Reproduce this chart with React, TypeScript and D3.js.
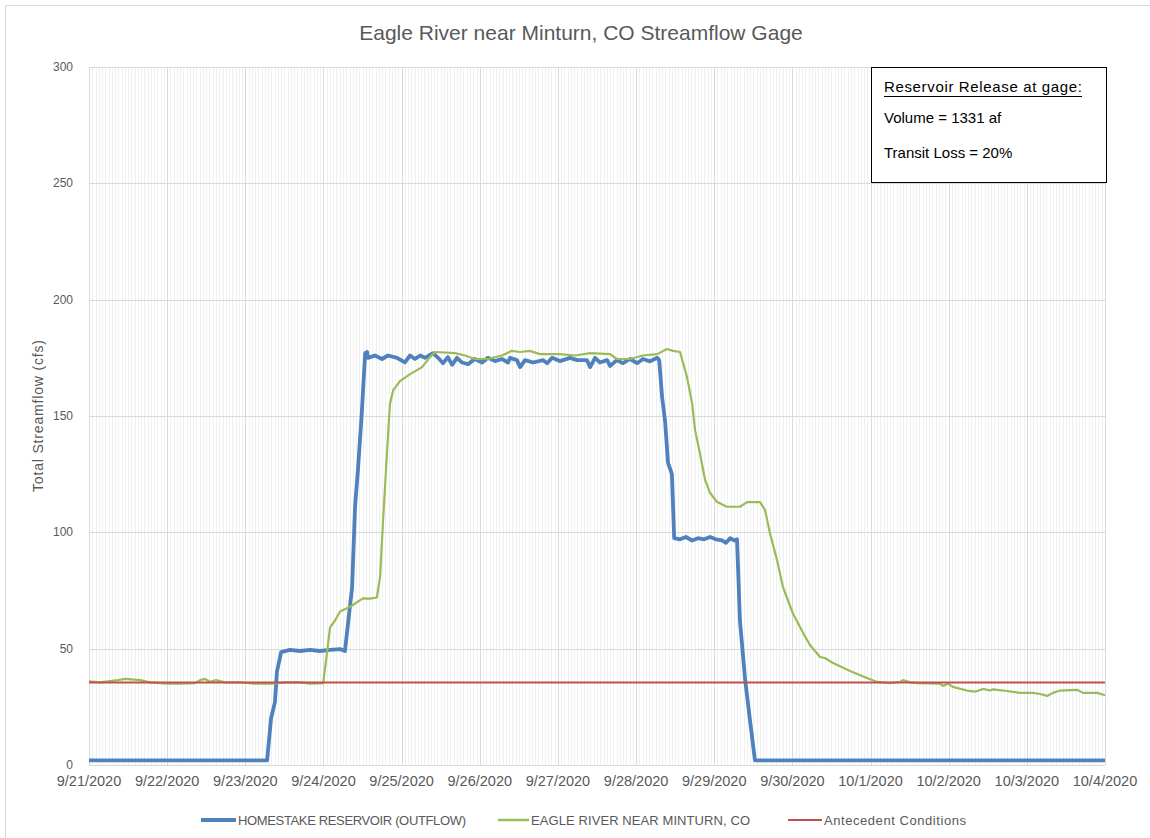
import React from 'react';
import * as d3 from 'd3';

// ---- data (hours since 9/21/2020 00:00, cfs) ----
const homestakeHours = [
  0, 54.7, 55.9, 57.1, 57.7, 59.0, 61.7, 64.8, 67.9, 70.9, 74.0, 77.1, 78.6,
  80.8, 81.7, 82.6, 83.8, 84.8, 85.4, 85.7, 87.8, 90.0, 91.8, 94.6, 97.0, 98.6,
  100.1, 101.7, 103.2, 105.6, 107.2, 108.7, 110.2, 111.5, 113.0, 114.5, 116.4,
  118.5, 120.7, 122.5, 124.7, 126.8, 128.7, 129.3, 131.4, 132.4, 133.9, 136.4,
  139.4, 140.7, 142.2, 144.6, 147.7, 149.9, 152.9, 153.9, 155.4, 156.9, 159.1,
  160.0, 162.1, 164.0, 166.1, 168.3, 170.1, 172.3, 174.5, 175.1, 176.0, 176.9,
  177.8, 179.0, 179.7, 181.5, 183.3, 185.2, 187.0, 188.9, 190.7, 192.5, 194.4,
  195.6, 196.9, 198.1, 199.0, 199.9, 201.5, 203.0, 204.5, 312,
];
const homestakeCfs = [
  2, 2, 20, 27, 40, 48.5, 49.5, 49, 49.5, 49, 49.5, 49.8, 49,
  76.5, 111, 127, 152, 177, 177.5, 175, 176, 174.5, 176, 175, 173, 176,
  174.5, 176, 175, 177, 175, 172.7, 175.3, 172, 175, 173, 172.3,
  174.5, 173, 175, 173.6, 174.5, 173, 175, 174, 171, 174, 173,
  174, 172.7, 175, 173.6, 175, 174, 174, 171, 175, 173, 174,
  171.5, 174, 172.7, 174.5, 172.7, 174.5, 173.5, 175, 174, 158, 148,
  130, 125, 97.5, 97, 98, 96.5, 97.5, 97, 98, 97, 96.5,
  95.5, 97.5, 96.5, 97, 62, 36.5, 19, 2, 2,
];

const eagleHours = [
  0, 3.4, 8.9, 11.1, 15.7, 18.7, 24.0, 27.9, 32.6, 34.1, 35.6, 37.2, 39.0, 41.8,
  46.4, 51.0, 56.2, 60.2, 64.8, 67.9, 71.9, 72.8, 74.0, 75.5, 77.1, 80.2, 84.1,
  86.3, 88.4, 89.4, 90.3, 91.5, 92.4, 93.4, 95.5, 98.6, 102.3, 104.7, 106.3,
  112.4, 115.5, 118.5, 122.5, 126.8, 129.9, 132.4, 135.4, 138.5, 144.6, 149.2,
  153.9, 160.0, 162.1, 166.1, 170.1, 174.5, 177.5, 179.3, 181.5, 183.6, 185.2,
  186.1, 187.6, 189.2, 190.7, 192.9, 195.9, 199.9, 202.1, 206.1, 207.6, 209.1,
  211.3, 213.1, 216.2, 219.3, 221.4, 224.5, 226.0, 228.5, 233.7, 238.9, 242.0,
  246.0, 249.1, 250.0, 252.1, 254.3, 261.3, 262.3, 263.8, 265.3, 269.6, 272.1,
  274.5, 276.7, 277.6, 281.9, 285.9, 289.9, 292.1, 294.2, 296.0, 298.2, 303.4,
  305.3, 309.6, 312,
];
const eagleCfs = [
  36, 35.5, 36.5, 37, 36.5, 35.5, 35, 35, 35.2, 36.5, 37, 35.8, 36.5, 35.5,
  35.5, 35, 35, 35.5, 35.5, 35, 35.2, 45, 59, 62, 66, 68, 71.6,
  71.5, 72, 81, 105, 134, 155, 161, 165, 168, 171, 175.3, 177.5,
  177, 176, 174.5, 174.5, 176, 178, 177.5, 178, 176.6, 176.6, 176,
  177, 176.6, 174.5, 174.5, 176, 176.6, 178.8, 178, 177.5, 167, 155.6,
  144, 134, 122.5, 117, 113, 111, 111, 113, 113, 109.6, 99.7,
  88, 76.5, 65, 56.7, 51.6, 46.4, 46, 43.8, 40.4, 37.4, 35.7,
  35.2, 35.7, 36.5, 35.5, 35.2, 35, 34, 35, 33.6, 32, 31.5,
  32.7, 32, 32.5, 31.8, 31, 31, 30.5, 29.7, 31, 32, 32.3,
  31, 31, 30,
];

const antecedentHours = [0, 312];
const antecedentCfs = [35.5, 35.5];

const yTickValues = [0, 50, 100, 150, 200, 250, 300];
const seriesNames = [
  'HOMESTAKE RESERVOIR (OUTFLOW)',
  'EAGLE RIVER NEAR MINTURN, CO',
  'Antecedent Conditions',
];
const seriesColors = ['#4f81bd', '#9bbb59', '#c0504d'];
const noteLines = ['Reservoir Release at gage:', 'Volume = 1331 af', 'Transit Loss = 20%'];
const chartTitle = 'Eagle River near Minturn, CO Streamflow Gage';
const yAxisTitle = 'Total Streamflow (cfs)';

// ---- layout ----
const W = 1150;
const H = 838;
const PL = 89;
const PR = 1105;
const PT = 67;
const PB = 765;
const FONT = "'Liberation Sans', Arial, sans-serif";

const start = new Date(2020, 8, 21);
const end = d3.timeDay.offset(start, 13);
const x = d3.scaleTime().domain([start, end]).range([PL, PR]);
const y = d3.scaleLinear().domain([0, 300]).range([PB, PT]);
const toDate = (h: number) => new Date(start.getTime() + h * 3600000);
const fmt = d3.timeFormat('%-m/%-d/%Y');

type Pt = [number, number];
const zip = (hs: number[], vs: number[]): Pt[] => hs.map((h, i) => [h, vs[i]]);
const line = d3
  .line<Pt>()
  .x((d) => x(toDate(d[0])))
  .y((d) => y(d[1]));

export default function App() {
  const days = d3.timeDay.range(start, d3.timeDay.offset(end, 1));
  const hours = d3.timeHour.range(start, end);
  const LY = 820;
  const legend = [
    { x1: 201, x2: 236, tx: 238, tl: 228, w: 4 },
    { x1: 498, x2: 529, tx: 531, tl: 219, w: 2.5 },
    { x1: 788, x2: 822, tx: 824, tl: 142, w: 2 },
  ];
  return (
    <div style={{ position: 'absolute', left: 0, top: 0 }}>
      <svg width={W} height={H} style={{ display: 'block', background: '#fff' }} fontFamily={FONT}>
        <rect x={0} y={0} width={W} height={H} fill="#fff" />
        <rect x={5.5} y={5.5} width={W + 10} height={H + 10} fill="none" stroke="#d9d9d9" />
        <text x={581} y={40} textAnchor="middle" fontSize={21} fill="#595959">
          {chartTitle}
        </text>

        {/* minor vertical grid */}
        <g stroke="#f0f0f0" strokeWidth={1}>
          {hours.map((h, i) => (
            <line key={i} x1={Math.round(x(h)) + 0.5} x2={Math.round(x(h)) + 0.5} y1={PT} y2={PB} />
          ))}
        </g>
        {/* major grid */}
        <g stroke="#d9d9d9" strokeWidth={1}>
          {yTickValues.map((v) => (
            <line key={v} x1={PL} x2={PR} y1={Math.round(y(v)) + 0.5} y2={Math.round(y(v)) + 0.5} />
          ))}
          {days.map((d, i) => (
            <line key={i} x1={Math.round(x(d)) + 0.5} x2={Math.round(x(d)) + 0.5} y1={PT} y2={PB} />
          ))}
        </g>

        {/* y ticks */}
        <g fontSize={12} fill="#595959" textAnchor="end">
          {yTickValues.map((v) => (
            <text key={v} x={73} y={y(v) + 4}>
              {v}
            </text>
          ))}
        </g>
        {/* x ticks */}
        <g fontSize={14.5} fill="#595959" textAnchor="middle">
          {days.map((d, i) => (
            <text key={i} x={x(d)} y={786}>
              {fmt(d)}
            </text>
          ))}
        </g>
        <text
          transform={`translate(43,${(PT + PB) / 2}) rotate(-90)`}
          textAnchor="middle"
          fontSize={14}
          fill="#595959"
          textLength={152}
        >
          {yAxisTitle}
        </text>

        {/* series */}
        <path
          d={line(zip(homestakeHours, homestakeCfs)) || ''}
          fill="none"
          stroke={seriesColors[0]}
          strokeWidth={3.8}
          strokeLinejoin="round"
        />
        <path
          d={line(zip(eagleHours, eagleCfs)) || ''}
          fill="none"
          stroke={seriesColors[1]}
          strokeWidth={2.2}
          strokeLinejoin="round"
        />
        <path
          d={line(zip(antecedentHours, antecedentCfs)) || ''}
          fill="none"
          stroke={seriesColors[2]}
          strokeWidth={2}
        />

        {/* annotation box */}
        <rect x={871.5} y={67.5} width={235} height={115} fill="#fff" stroke="#000" strokeWidth={1} />
        <g fontSize={15} fill="#000">
          <text x={884} y={92} textLength={198}>
            {noteLines[0]}
          </text>
          <line x1={884} x2={1082} y1={96.5} y2={96.5} stroke="#000" strokeWidth={1} />
          <text x={884} y={123}>
            {noteLines[1]}
          </text>
          <text x={884} y={158}>
            {noteLines[2]}
          </text>
        </g>

        {/* legend */}
        <g fontSize={13} fill="#595959">
          {legend.map((l, i) => (
            <g key={i}>
              <line x1={l.x1} x2={l.x2} y1={LY} y2={LY} stroke={seriesColors[i]} strokeWidth={l.w} />
              <text x={l.tx} y={LY + 5} textLength={l.tl}>
                {seriesNames[i]}
              </text>
            </g>
          ))}
        </g>
      </svg>
    </div>
  );
}
